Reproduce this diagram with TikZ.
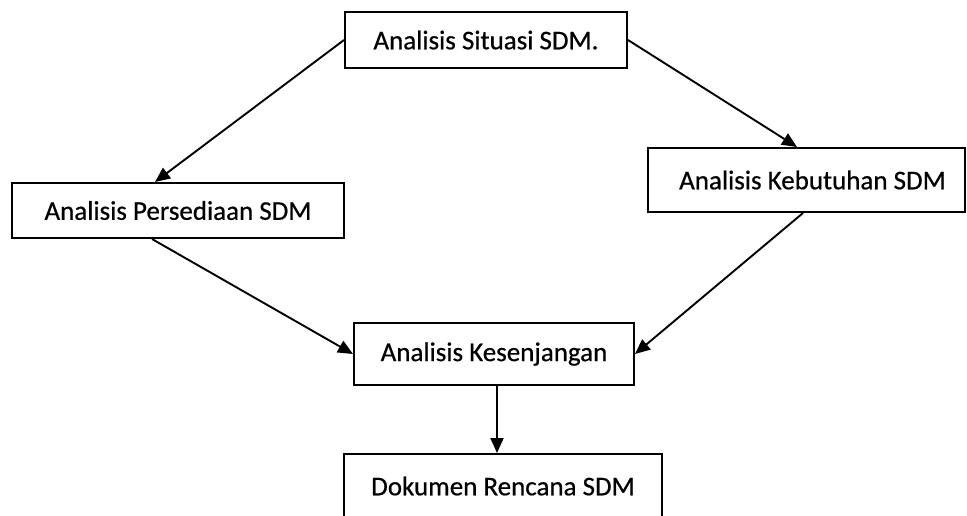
\documentclass[tikz,border=0pt]{standalone}
\usepackage{fontspec}
\setmainfont[FakeBold=0.6]{Carlito}
\usetikzlibrary{arrows.meta}
\begin{document}
\begin{tikzpicture}[x=1pt,y=-1pt,
  box/.style={draw=black,line width=2pt,rectangle,inner sep=0pt,
    font=\fontsize{27}{32}\selectfont},
  link/.style={draw=black,line width=1.9pt,-{Triangle[length=15pt,width=13pt]}}]
  \path[use as bounding box,clip] (0,0) rectangle (967,515);
  \fill[white] (0,0) rectangle (967,515);

  % process boxes
  \node[box,minimum width=282pt,minimum height=56pt] (situasi) at (486,40) {Analisis Situasi SDM.};
  \node[box,minimum width=332pt,minimum height=55pt] (sedia) at (178,210.5) {Analisis Persediaan SDM};
  \node[box,minimum width=317pt,minimum height=64pt] (butuh) at (806.5,180) {\hspace*{12pt}Analisis Kebutuhan SDM};
  \node[box,minimum width=280pt,minimum height=62pt] (senjang) at (494,354) {Analisis Kesenjangan};
  \node[box,minimum width=318pt,minimum height=64pt] (dokumen) at (503,486) {Dokumen Rencana SDM};

  % flow
  \draw[link] (situasi.west) -- ([xshift=-23pt]sedia.north);
  \draw[link] (situasi.east) -- ([xshift=-9.5pt]butuh.north);
  \draw[link] ([xshift=-26pt]sedia.south) -- (senjang.west);
  \draw[link] ([xshift=-3.5pt]butuh.south) -- (senjang.east);
  \draw[link] ([xshift=3pt]senjang.south) -- ([xshift=3pt]senjang.south |- dokumen.north);
\end{tikzpicture}
\end{document}
